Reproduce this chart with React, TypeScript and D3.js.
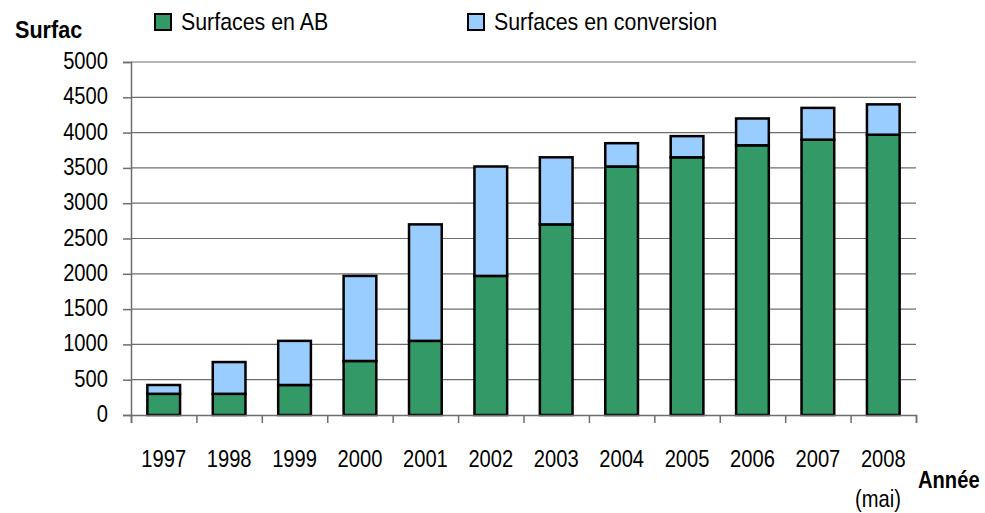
import React, { useEffect, useRef } from "react";
import * as d3 from "d3";

const years = ["1997", "1998", "1999", "2000", "2001", "2002", "2003", "2004", "2005", "2006", "2007", "2008"];
const surfacesAB = [300, 300, 425, 765, 1050, 1970, 2700, 3520, 3650, 3820, 3900, 3970];
const surfacesConversion = [125, 450, 625, 1205, 1650, 1550, 950, 330, 300, 380, 450, 430];
const yTicks = [0, 500, 1000, 1500, 2000, 2500, 3000, 3500, 4000, 4500, 5000];
const seriesNames = ["Surfaces en AB", "Surfaces en conversion"];
const colors = ["#339966", "#99ccff"];

const FONT = "'Liberation Sans', Arial, sans-serif";
const SX = 0.84;

export default function App() {
  const ref = useRef<SVGSVGElement>(null);

  useEffect(() => {
    const svg = d3.select(ref.current);
    svg.selectAll("*").remove();

    const left = 131;
    const right = 916;
    const top = 62;
    const bottom = 415;

    const x = d3.scaleBand().domain(years).range([left, right]).paddingInner(0.5).paddingOuter(0.25);
    const y = d3.scaleLinear().domain([0, 5000]).range([bottom, top]);

    const rows = years.map((yr, i) => ({ year: yr, ab: surfacesAB[i], conv: surfacesConversion[i] }));
    const stacked = d3.stack<any>().keys(["ab", "conv"])(rows);

    // gridlines
    svg
      .append("g")
      .selectAll("line")
      .data(yTicks.filter((t) => t > 0))
      .join("line")
      .attr("x1", left)
      .attr("x2", right)
      .attr("y1", (d) => y(d))
      .attr("y2", (d) => y(d))
      .attr("stroke", "#6e6e6e")
      .attr("stroke-width", 1.2);

    // bars
    svg
      .append("g")
      .selectAll("g")
      .data(stacked)
      .join("g")
      .attr("fill", (_d, i) => colors[i])
      .selectAll("rect")
      .data((d) => d)
      .join("rect")
      .attr("x", (d: any) => x(d.data.year)!)
      .attr("width", x.bandwidth())
      .attr("y", (d) => y(d[1]))
      .attr("height", (d) => y(d[0]) - y(d[1]))
      .attr("stroke", "#000")
      .attr("stroke-width", 2.5);

    // y axis
    const yAxis = svg
      .append("g")
      .attr("transform", `translate(${left},0)`)
      .call(d3.axisLeft(y).tickValues(yTicks).tickSize(8).tickFormat(() => ""));
    yAxis.select(".domain").attr("stroke", "#6e6e6e").attr("stroke-width", 1.5);
    yAxis.selectAll(".tick line").attr("stroke", "#6e6e6e").attr("stroke-width", 1.5);

    svg
      .append("g")
      .selectAll("text")
      .data(yTicks)
      .join("text")
      .attr("transform", (d) => `translate(108,${y(d) + 7}) scale(${SX},1)`)
      .attr("text-anchor", "end")
      .attr("font-family", FONT)
      .attr("font-size", 24)
      .attr("fill", "#000")
      .text((d) => d);

    // x axis
    const xAxis = svg
      .append("g")
      .attr("transform", `translate(0,${bottom})`)
      .call(
        d3
          .axisBottom(d3.scaleLinear().domain([0, years.length]).range([left, right]))
          .ticks(years.length)
          .tickSize(8)
          .tickFormat(() => "")
      );
    xAxis.select(".domain").attr("stroke", "#6e6e6e").attr("stroke-width", 1.5);
    xAxis.selectAll(".tick line").attr("stroke", "#6e6e6e").attr("stroke-width", 1.5);

    svg
      .append("g")
      .selectAll("text")
      .data(years)
      .join("text")
      .attr("transform", (d) => `translate(${x(d)! + x.bandwidth() / 2},467) scale(${SX},1)`)
      .attr("text-anchor", "middle")
      .attr("font-family", FONT)
      .attr("font-size", 24)
      .attr("fill", "#000")
      .text((d) => d);

    svg
      .append("text")
      .attr("transform", `translate(878,507) scale(${SX},1)`)
      .attr("text-anchor", "middle")
      .attr("font-family", FONT)
      .attr("font-size", 24)
      .text("(mai)");

    // axis titles
    svg
      .append("text")
      .attr("transform", `translate(15,38) scale(0.9,1)`)
      .attr("font-family", FONT)
      .attr("font-size", 24)
      .attr("font-weight", "bold")
      .text("Surfac");

    svg
      .append("text")
      .attr("transform", `translate(918,488) scale(${SX},1)`)
      .attr("font-family", FONT)
      .attr("font-size", 24)
      .attr("font-weight", "bold")
      .text("Année");

    // legend
    const legendX = [155, 468];
    const legend = svg
      .append("g")
      .selectAll("g")
      .data(seriesNames)
      .join("g")
      .attr("transform", (_d, i) => `translate(${legendX[i]},14)`);
    legend
      .append("rect")
      .attr("width", 16)
      .attr("height", 16)
      .attr("fill", (_d, i) => colors[i])
      .attr("stroke", "#000")
      .attr("stroke-width", 2);
    legend
      .append("text")
      .attr("transform", `translate(26,16) scale(0.89,1)`)
      .attr("font-family", FONT)
      .attr("font-size", 24)
      .text((d) => d);
  }, []);

  return (
    <svg
      ref={ref}
      width={985}
      height={513}
      style={{ position: "absolute", left: 0, top: 0, background: "#fff" }}
    />
  );
}
